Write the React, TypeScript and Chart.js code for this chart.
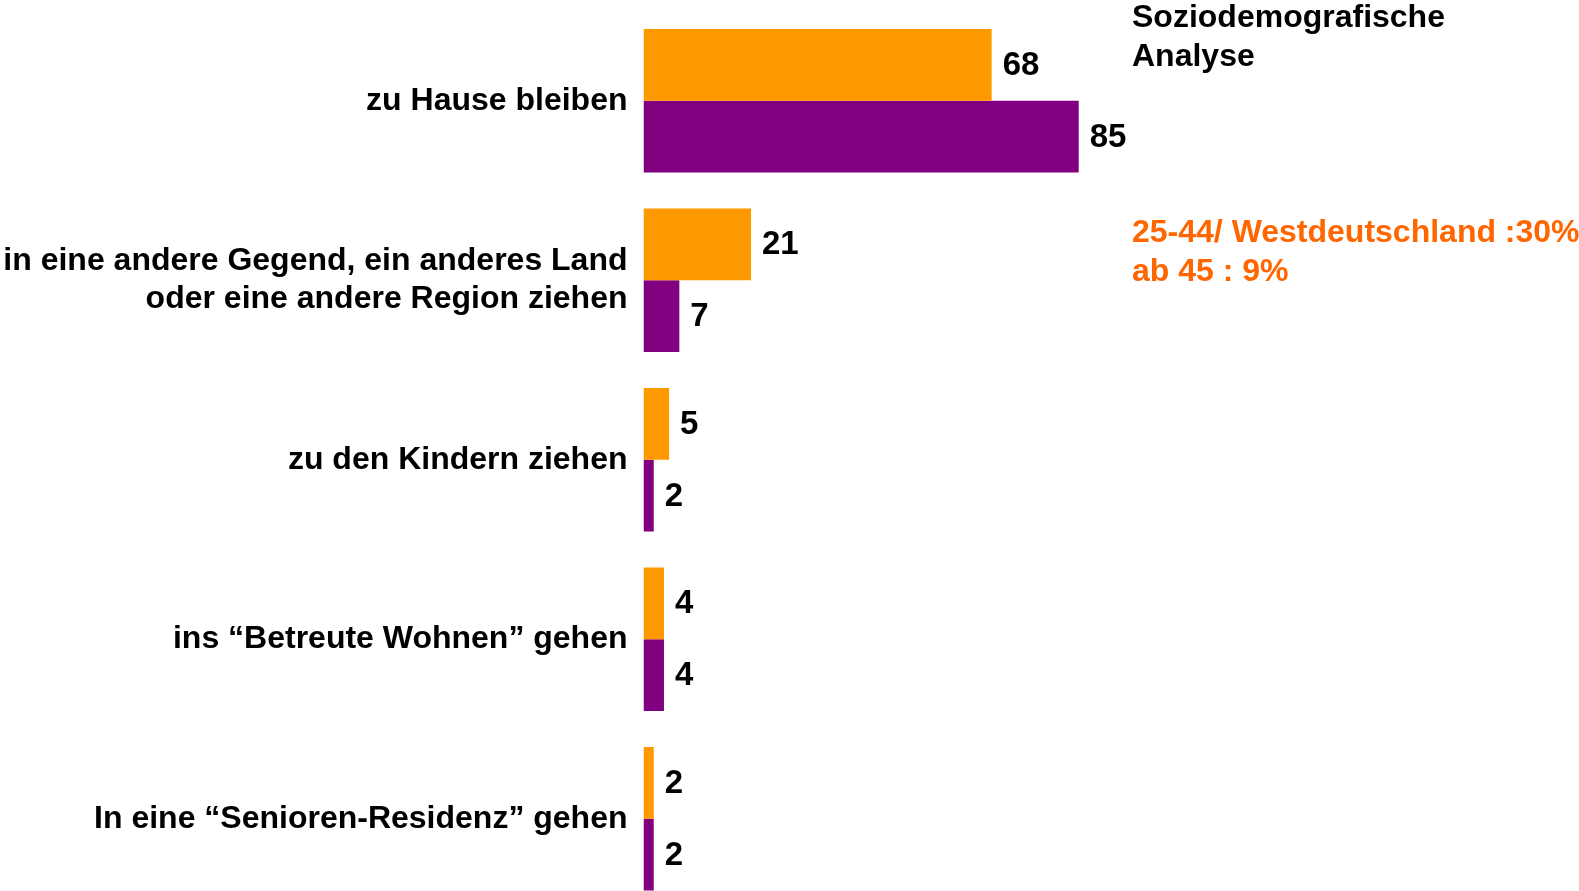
import React, { useEffect, useRef } from "react";
import { Chart, registerables } from "chart.js";

Chart.register(...registerables);

const categories: (string | string[])[] = [
  "zu Hause bleiben",
  ["in eine andere Gegend, ein anderes Land", "oder eine andere Region ziehen"],
  "zu den Kindern ziehen",
  "ins \u201cBetreute Wohnen\u201d gehen",
  "In eine \u201cSenioren-Residenz\u201d gehen",
];
const seriesOrange = [68, 21, 5, 4, 2];
const seriesPurple = [85, 7, 2, 4, 2];
const titleLines = ["Soziodemografische", "Analyse"];
const noteLines = ["25-44/ Westdeutschland :30%", "ab 45 : 9%"];

const FONT = "'Liberation Sans', Arial, sans-serif";

const valueLabels = {
  id: "valueLabels",
  afterDatasetsDraw(chart: any) {
    const ctx = chart.ctx;
    ctx.save();
    ctx.font = `bold 33px ${FONT}`;
    ctx.fillStyle = "#000000";
    ctx.textAlign = "left";
    ctx.textBaseline = "middle";
    chart.data.datasets.forEach((ds: any, i: number) => {
      const meta = chart.getDatasetMeta(i);
      meta.data.forEach((bar: any, j: number) => {
        ctx.fillText(String(ds.data[j]), bar.x + 11, bar.y + 1);
      });
    });
    ctx.restore();
  },
};

const annotations = {
  id: "annotations",
  afterDraw(chart: any) {
    const ctx = chart.ctx;
    ctx.save();
    ctx.font = `bold 32px ${FONT}`;
    ctx.textAlign = "left";
    ctx.textBaseline = "middle";
    ctx.fillStyle = "#000000";
    titleLines.forEach((t, i) => ctx.fillText(t, 1132, 18 + i * 39));
    ctx.fillStyle = "#FF6600";
    noteLines.forEach((t, i) => ctx.fillText(t, 1132, 233 + i * 39));
    ctx.restore();
  },
};

export default function App() {
  const ref = useRef<HTMLCanvasElement>(null);
  useEffect(() => {
    if (!ref.current) return;
    const chart = new Chart(ref.current, {
      type: "bar",
      data: {
        labels: categories,
        datasets: [
          {
            label: "A",
            data: seriesOrange,
            backgroundColor: "#FF9900",
            categoryPercentage: 0.8,
            barPercentage: 1.0,
          },
          {
            label: "B",
            data: seriesPurple,
            backgroundColor: "#800080",
            categoryPercentage: 0.8,
            barPercentage: 1.0,
          },
        ],
      },
      options: {
        indexAxis: "y",
        animation: false,
        responsive: false,
        maintainAspectRatio: false,
        layout: { padding: { top: 11, bottom: 1.5, left: 0, right: 423.5 } },
        plugins: { legend: { display: false }, tooltip: { enabled: false } },
        scales: {
          x: { display: false, min: 0, max: 100 },
          y: {
            grid: { display: false, drawTicks: false },
            border: { display: false },
            ticks: {
              color: "#000000",
              padding: 16,
              font: { family: FONT, size: 32, weight: "bold", lineHeight: 1.2 },
            },
            afterFit(scale: any) {
              scale.width = 643.5;
              scale.paddingTop = 0;
              scale.paddingBottom = 0;
            },
          },
        },
      },
      plugins: [valueLabels, annotations],
    });
    return () => chart.destroy();
  }, []);
  return (
    <div
      style={{
        position: "absolute",
        left: 0,
        top: 0,
        width: 1579,
        height: 891,
        overflow: "hidden",
        background: "#ffffff",
      }}
    >
      <canvas ref={ref} width={1579} height={910} style={{ display: "block" }} />
    </div>
  );
}
